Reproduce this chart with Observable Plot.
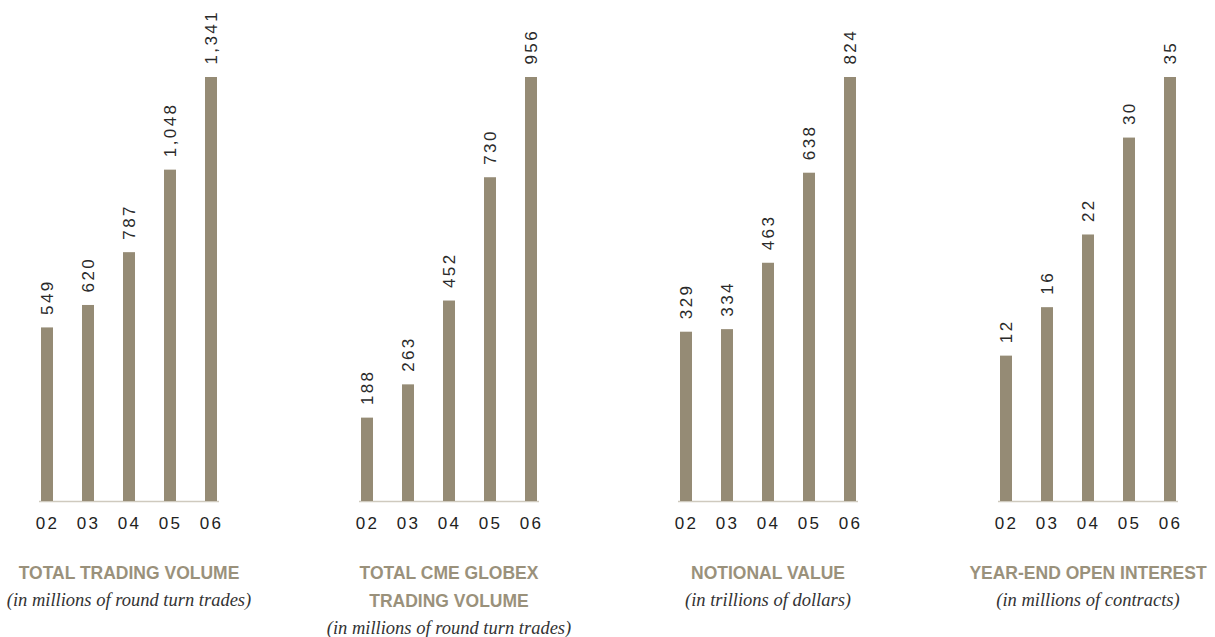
<!DOCTYPE html>
<html><head><meta charset="utf-8">
<script src="https://cdn.jsdelivr.net/npm/d3@7"></script>
<script src="https://cdn.jsdelivr.net/npm/@observablehq/plot@0.6"></script>
<style>
body{margin:0;background:#fff;overflow:hidden;width:1215px;height:637px;position:relative}
.panel{position:absolute;top:0;width:260px;height:637px}
.cap{position:absolute;top:559px;left:0;width:260px;text-align:center}
.t{font-family:"Liberation Sans",sans-serif;font-weight:bold;font-size:17.5px;line-height:28px;color:#9a917b;white-space:nowrap}
.s{font-family:"Liberation Serif",serif;font-style:italic;font-size:18.5px;line-height:27px;color:#333;white-space:nowrap}
svg text{letter-spacing:2.4px;font-family:"Liberation Sans",Arial,sans-serif}
</style></head><body>
<script>
const years = ["02","03","04","05","06"];
const totalTradingVolume = [549,620,787,1048,1341];
const globexVolume = [188,263,452,730,956];
const notionalValue = [329,334,463,638,824];
const openInterest = [12,16,22,30,35];
const titles = ["TOTAL TRADING VOLUME","TOTAL CME GLOBEX<br>TRADING VOLUME","NOTIONAL VALUE","YEAR-END OPEN INTEREST"];
const subtitles = ["(in millions of round turn trades)","(in millions of round turn trades)","(in trillions of dollars)","(in millions of contracts)"];
const series = [totalTradingVolume, globexVolume, notionalValue, openInterest];
const lefts = [-1, 319, 638, 958];

series.forEach((vals, i) => {
  const data = years.map((y, j) => ({year: y, value: vals[j]}));
  const div = document.createElement("div");
  div.className = "panel";
  div.style.left = lefts[i] + "px";
  const chart = Plot.plot({
    width: 260, height: 536,
    marginLeft: 40, marginRight: 40, marginTop: 77, marginBottom: 35,
    x: {domain: years, paddingInner: 0.714, paddingOuter: 0, label: null, tickSize: 0, tickPadding: 15},
    y: {domain: [0, d3.max(vals)], axis: null},
    style: {fontFamily: "Liberation Sans", fontSize: "17px", color: "#222", background: "transparent"},
    marks: [
      Plot.ruleY([0], {stroke: "#cfcabe", strokeWidth: 1.5}),
      Plot.barY(data, {x: "year", y: "value", fill: "#958b75"}),
      Plot.text(data, {x: "year", y: "value", text: d => d3.format(",")(d.value), rotate: -90, textAnchor: "start", dy: -13, fill: "#2a2a2a", fontSize: 17})
    ]
  });
  div.appendChild(chart);
  const cap = document.createElement("div");
  cap.className = "cap";
  cap.innerHTML = `<div class="t">${titles[i]}</div><div class="s">${subtitles[i]}</div>`;
  div.appendChild(cap);
  document.body.appendChild(div);
});
</script>
</body></html>
